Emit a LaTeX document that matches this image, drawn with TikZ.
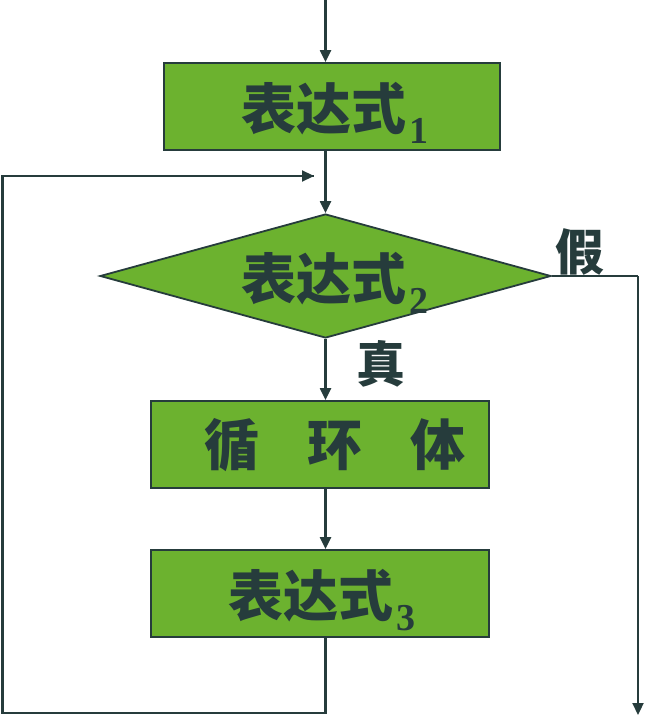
\documentclass[tikz,border=0pt]{standalone}
\usepackage{fontspec}
\newfontfamily\cjk{Noto Sans CJK SC}
\newfontfamily\subfont{Liberation Serif}
\usetikzlibrary{shapes.geometric,arrows.meta}
\definecolor{boxgreen}{HTML}{6CB22F}
\definecolor{ink}{HTML}{263C3C}
\newcommand\subnum[1]{\hspace{3pt}\smash{\raisebox{-14pt}{\fontsize{38}{38}\selectfont\subfont\bfseries #1}}}
\begin{document}
\begin{tikzpicture}[x=1pt,y=-1pt,
  box/.style={draw=ink,line width=1.8pt,fill=boxgreen,inner sep=0pt},
  lbl/.style={text=ink,inner sep=0pt,font=\fontsize{55}{55}\selectfont\cjk\bfseries},
  side/.style={text=ink,inner sep=0pt,font=\fontsize{49}{49}\selectfont\cjk\bfseries},
  conn/.style={draw=ink,line width=2.2pt},
  arr/.style={conn,-{Triangle[length=12pt,width=11pt]}}]
\useasboundingbox (0,0) rectangle (650,727);
\node[box,minimum width=336pt,minimum height=87pt] (b1) at (332,106.5) {};
\node[box,diamond,minimum width=451pt,minimum height=124pt] (d) at (325.5,276) {};
\node[box,minimum width=338pt,minimum height=87pt] (b2) at (320,444.5) {};
\node[box,minimum width=338pt,minimum height=87pt] (b3) at (320,593.5) {};
\node[lbl,anchor=west] (t1) at (241,108.5) {表达式\subnum{1}};
\node[lbl,anchor=west] (t2) at (241,279) {表达式\subnum{2}};
\node[lbl] (t3) at (335,445) {循\hspace{48pt}环\hspace{48pt}体};
\node[lbl,anchor=west] (t4) at (228,596) {表达式\subnum{3}};
\node[side] (f) at (580,252) {假};
\node[side] (tr) at (381,364) {真};
\coordinate (top) at (325.5,0);
\coordinate (lb) at (325.5,713);
\coordinate (ll) at (2.5,713);
\coordinate (lt) at (2.5,176);
\coordinate (le) at (314,176);
\coordinate (fr) at (638,276);
\coordinate (fe) at (638,715);
\draw[arr] (top) -- (top |- b1.north);
\draw[arr] (b1.south -| d.north) -- (d.north);
\draw[arr] (d.south) -- (d.south |- b2.north);
\draw[arr] (b2.south -| d.south) -- (d.south |- b3.north);
\draw[conn] (b3.south -| d.south) -- (lb) -- (ll) -- (lt) -- (le);
\draw[arr] (lt) -- (le);
\draw[conn] (d.east) -- (fr);
\draw[arr] (fr) -- (fe);
\end{tikzpicture}
\end{document}
